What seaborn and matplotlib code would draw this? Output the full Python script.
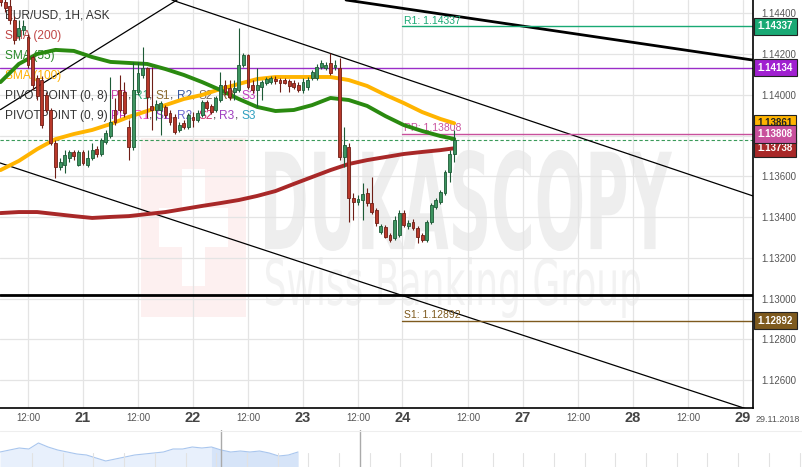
import numpy as np
import matplotlib
matplotlib.use('Agg')
import matplotlib.pyplot as plt
import matplotlib.transforms as mtransforms
from matplotlib.textpath import TextPath
from matplotlib.font_manager import FontProperties
from matplotlib.patches import PathPatch, Rectangle
import seaborn as sns

sns.set_style('white')
plt.rcParams['font.family'] = ['Liberation Sans', 'DejaVu Sans']
NARROW = ['Liberation Sans Narrow', 'Liberation Sans', 'DejaVu Sans']

# hourly EUR/USD candles (ask), bar index = hours on the chart axis
opens = [1.14505, 1.14456, 1.14437, 1.14368, 1.14289, 1.14319, 1.14284, 1.14186, 1.14083, 1.14073,
         1.14000, 1.13926, 1.13764, 1.13646, 1.13656, 1.13690, 1.13720, 1.13656, 1.13720, 1.13656,
         1.13690, 1.13734, 1.13710, 1.13769, 1.13798, 1.13926, 1.14024, 1.14014, 1.13842, 1.13744,
         1.14014, 1.14098, 1.14132, 1.13946, 1.13926, 1.13926, 1.13941, 1.13911, 1.13892, 1.13828,
         1.13862, 1.13842, 1.13892, 1.13877, 1.13901, 1.13965, 1.13946, 1.13926, 1.13975, 1.14049,
         1.14034, 1.14014, 1.14024, 1.14147, 1.14196, 1.14049, 1.14024, 1.14039, 1.14058, 1.14063,
         1.14078, 1.14073, 1.14073, 1.14068, 1.14058, 1.14049, 1.14024, 1.14039, 1.14083, 1.14083,
         1.14137, 1.14132, 1.14157, 1.14137, 1.14132, 1.13695, 1.13744, 1.13494, 1.13474, 1.13484,
         1.13518, 1.13469, 1.13435, 1.13327, 1.13351, 1.13312, 1.13297, 1.13312, 1.13420, 1.13356,
         1.13376, 1.13347, 1.13312, 1.13288, 1.13376, 1.13450, 1.13474, 1.13518, 1.13621, 1.13710]
highs = [1.14535, 1.14486, 1.14476, 1.14387, 1.14368, 1.14368, 1.14299, 1.14196, 1.14098, 1.14093,
         1.14014, 1.13936, 1.13779, 1.13690, 1.13729, 1.13729, 1.13729, 1.13729, 1.13729, 1.13729,
         1.13764, 1.13749, 1.13788, 1.13828, 1.14088, 1.13985, 1.14098, 1.14063, 1.13877, 1.14162,
         1.14162, 1.14235, 1.14137, 1.14137, 1.13975, 1.13970, 1.13950, 1.13926, 1.13906, 1.13867,
         1.13877, 1.13911, 1.13916, 1.13926, 1.13975, 1.13975, 1.13955, 1.13995, 1.14112, 1.14073,
         1.14073, 1.14073, 1.14329, 1.14206, 1.14201, 1.14073, 1.14132, 1.14073, 1.14088, 1.14093,
         1.14093, 1.14083, 1.14083, 1.14078, 1.14073, 1.14063, 1.14083, 1.14088, 1.14122, 1.14152,
         1.14171, 1.14162, 1.14206, 1.14171, 1.14181, 1.13842, 1.13764, 1.13518, 1.13509, 1.13567,
         1.13543, 1.13597, 1.13445, 1.13366, 1.13361, 1.13322, 1.13405, 1.13435, 1.13435, 1.13386,
         1.13391, 1.13356, 1.13322, 1.13386, 1.13469, 1.13494, 1.13533, 1.13631, 1.13729, 1.13828]
lows = [1.14437, 1.14407, 1.14348, 1.14250, 1.14270, 1.14294, 1.14132, 1.14024, 1.13975, 1.13838,
        1.13916, 1.13754, 1.13592, 1.13631, 1.13617, 1.13671, 1.13680, 1.13651, 1.13656, 1.13646,
        1.13680, 1.13695, 1.13700, 1.13759, 1.13788, 1.13852, 1.13916, 1.13892, 1.13680, 1.13729,
        1.14000, 1.14083, 1.13887, 1.13828, 1.13877, 1.13803, 1.13887, 1.13852, 1.13808, 1.13818,
        1.13833, 1.13833, 1.13842, 1.13867, 1.13892, 1.13926, 1.13906, 1.13916, 1.13965, 1.14000,
        1.13975, 1.13975, 1.14014, 1.14137, 1.14029, 1.14009, 1.13941, 1.13975, 1.14049, 1.14054,
        1.14054, 1.14014, 1.14054, 1.14014, 1.14029, 1.14014, 1.14009, 1.14024, 1.14073, 1.14073,
        1.14127, 1.14122, 1.14098, 1.14122, 1.13680, 1.13646, 1.13376, 1.13386, 1.13459, 1.13386,
        1.13455, 1.13415, 1.13356, 1.13317, 1.13297, 1.13278, 1.13288, 1.13302, 1.13351, 1.13342,
        1.13337, 1.13273, 1.13278, 1.13278, 1.13366, 1.13440, 1.13464, 1.13509, 1.13572, 1.13671]
closes = [1.14456, 1.14427, 1.14368, 1.14270, 1.14329, 1.14338, 1.14147, 1.14049, 1.13995, 1.13852,
          1.13926, 1.13764, 1.13646, 1.13671, 1.13705, 1.13720, 1.13700, 1.13720, 1.13666, 1.13690,
          1.13729, 1.13710, 1.13779, 1.13813, 1.13867, 1.13867, 1.13926, 1.13911, 1.13744, 1.14024,
          1.14108, 1.14132, 1.13990, 1.13926, 1.13955, 1.13960, 1.13901, 1.13867, 1.13818, 1.13852,
          1.13842, 1.13901, 1.13877, 1.13911, 1.13965, 1.13936, 1.13916, 1.13985, 1.14049, 1.14014,
          1.13990, 1.14034, 1.14147, 1.14196, 1.14039, 1.14024, 1.14049, 1.14063, 1.14078, 1.14083,
          1.14068, 1.14058, 1.14058, 1.14044, 1.14039, 1.14024, 1.14063, 1.14073, 1.14112, 1.14137,
          1.14157, 1.14147, 1.14108, 1.14147, 1.13695, 1.13754, 1.13494, 1.13474, 1.13489, 1.13513,
          1.13469, 1.13425, 1.13371, 1.13356, 1.13302, 1.13288, 1.13386, 1.13420, 1.13361, 1.13371,
          1.13347, 1.13302, 1.13288, 1.13376, 1.13459, 1.13484, 1.13523, 1.13621, 1.13710, 1.13779]

# moving averages read every 4 bars
ma_hours = [0, 4, 8, 12, 16, 20, 24, 28, 32, 36, 40, 44, 48, 52, 56, 60, 64, 68, 72, 76, 80, 84, 88, 92, 96, 99]
sma55 = [1.14063, 1.14152, 1.14201, 1.14221, 1.14216, 1.14186, 1.14162, 1.14157, 1.14152, 1.14127,
         1.14098, 1.14063, 1.14024, 1.13980, 1.13941, 1.13921, 1.13926, 1.13950, 1.13985, 1.13975,
         1.13946, 1.13896, 1.13852, 1.13823, 1.13798, 1.13784]
sma100 = [1.13631, 1.13676, 1.13734, 1.13783, 1.13808, 1.13828, 1.13857, 1.13892, 1.13921, 1.13950,
          1.13980, 1.14000, 1.14029, 1.14054, 1.14078, 1.14088, 1.14088, 1.14088, 1.14088, 1.14073,
          1.14044, 1.14000, 1.13960, 1.13916, 1.13882, 1.13861]
sma200 = [1.13420, 1.13425, 1.13425, 1.13415, 1.13405, 1.13396, 1.13401, 1.13405, 1.13415, 1.13425,
          1.13440, 1.13455, 1.13469, 1.13484, 1.13504, 1.13528, 1.13563, 1.13597, 1.13631, 1.13661,
          1.13680, 1.13695, 1.13710, 1.13720, 1.13729, 1.13738]

# pivot levels of the current session and drawn levels
session_start = 87.7
pivots = [('R1', 1.14337, '#19a974'), ('PP', 1.13808, '#c8509c'), ('S1', 1.12892, '#7e5a1e')]
purple_level = 1.14134
black_level = 1.13018
ask_price = 1.13779

# trend lines: (hour, price) pairs
trend_thin = [((0.0, 1.13928), (40.0, 1.14487)),
              ((37.4, 1.14466), (164.2, 1.13504)),
              ((-0.11, 1.13666), (164.2, 1.12448))]
trend_thick = [((75.4, 1.14466), (164.2, 1.14171))]

tick_hours = [6, 18, 30, 42, 54, 66, 78, 87.7, 102, 114, 126, 138, 150, 162]
tick_labels = ['12:00', '21', '12:00', '22', '12:00', '23', '12:00', '24', '12:00', '27', '12:00', '28', '12:00', '29']

# navigator (overview) curve levels
nav_levels = [15, 17, 19, 18, 24, 20, 17, 15, 13, 12, 9, 6, 8, 10, 12, 13, 14, 15, 18, 18,
              20, 19, 20, 17, 15, 16, 15, 16, 14, 11, 12, 15]

W, H = 803, 467
fig = plt.figure(figsize=(W / 100, H / 100), dpi=100)
ax = fig.add_axes([0, 59 / H, 753 / W, 408 / H])
ax.set_xlim(-0.11, 164.2)
ax.set_ylim(1.12463, 1.14466)
ax.set_axisbelow(True)

# watermark (logo and brand lettering under the grid)
def stamp(text, box, color, weight):
    fp = FontProperties(family=NARROW[0], weight=weight)
    tp = TextPath((0, 0), text, size=100, prop=fp)
    bb = tp.get_extents()
    x0, y0, x1, y1 = box
    tr = mtransforms.Affine2D().translate(-bb.x0, -bb.y0).scale(
        (x1 - x0) / bb.width, (y1 - y0) / bb.height).translate(x0, H - y1)
    ax.add_patch(PathPatch(tp, transform=tr, fc=color, ec='none', zorder=0.2))

ident = mtransforms.IdentityTransform()
ax.add_patch(Rectangle((141, H - 317), 105, 179, transform=ident, fc='#fdf0f0', ec='none', zorder=0.1))
ax.add_patch(Rectangle((182, H - 286), 23, 117, transform=ident, fc='white', ec='none', zorder=0.15))
ax.add_patch(Rectangle((159, H - 247), 69, 39, transform=ident, fc='white', ec='none', zorder=0.15))
stamp('DUKASCOPY', (265, 150, 672, 251), '#eeeeee', 'bold')
stamp('Swiss Banking Group', (266, 257, 640, 318), '#f2f2f2', 'normal')

ax.grid(True, color='#e4e4e4', lw=0.9)
ax.set_xticks(tick_hours)
ax.set_xticklabels([])
ax.set_yticks(np.arange(1.126, 1.1441, 0.002))
ax.yaxis.tick_right()
ax.yaxis.set_major_formatter(matplotlib.ticker.FormatStrFormatter('%.5f'))
ax.tick_params(axis='y', length=0, pad=6, labelsize=7, labelcolor='#555555')
ax.tick_params(axis='x', length=0)
for s in ['top', 'left']:
    ax.spines[s].set_visible(False)
for s in ['right', 'bottom']:
    ax.spines[s].set_color('black')
    ax.spines[s].set_linewidth(1.2)

# levels and trend lines
ax.axhline(purple_level, color='#9a2ec8', lw=1.0, zorder=2)
ax.axhline(black_level, color='black', lw=2.0, zorder=2)
ax.axhline(ask_price, color='#3a9a5a', lw=0.8, ls=(0, (3, 2)), zorder=2)
for (a, b) in trend_thin:
    ax.plot([a[0], b[0]], [a[1], b[1]], color='black', lw=0.9, zorder=2)
for (a, b) in trend_thick:
    ax.plot([a[0], b[0]], [a[1], b[1]], color='black', lw=2.0, zorder=2)
for name, val, col in pivots:
    ax.plot([session_start, 164.2], [val, val], color=col, lw=1.0, zorder=2)
    ax.text(session_start + 0.3, val + 0.00003, f'{name}: {val:.5f}', color=col,
            fontsize=7.5, va='bottom', ha='left', zorder=3)

# legend block top-left
renderer = fig.canvas.get_renderer()
def colored_line(y, parts, size=8.6):
    t = ax.transAxes
    for s, c in parts:
        txt = ax.text(5.5 / 753, 1 - y / 408, s, color=c, transform=t, fontsize=size,
                      va='center', ha='left', zorder=2.5)
        txt.draw(renderer)
        ex = txt.get_window_extent(renderer)
        t = mtransforms.offset_copy(txt.get_transform(), x=ex.width, units='dots')

sep = '#333333'
colored_line(15.5, [('EUR/USD, 1H, ASK', '#333333')])
colored_line(35.5, [('SMA (200)', '#c04646')])
colored_line(56, [('SMA (55)', '#2a8a2a')])
colored_line(76, [('SMA (100)', '#ffb000')])
colored_line(96, [('PIVOTPOINT (0, 8) ', '#333333'), ('PP', '#cc44aa'), (', ', sep),
                  ('R1', '#2aa870'), (', ', sep), ('S1', '#8a6a30'), (', ', sep),
                  ('R2', '#3a5aa0'), (', ', sep), ('S2', '#7a6a60'), (', ', sep),
                  ('R3', '#8a5a30'), (', ', sep), ('S3', '#c040c0')])
colored_line(116, [('PIVOTPOINT (0, 9) ', '#333333'), ('PP', '#c030c0'), (', ', sep),
                   ('R1', '#ee44cc'), (', ', sep), ('S1', '#a040d0'), (', ', sep),
                   ('R2', '#6a6ad0'), (', ', sep), ('S2', '#d03070'), (', ', sep),
                   ('R3', '#a040c0'), (', ', sep), ('S3', '#30a0c0')])

# moving averages
sns.lineplot(x=ma_hours, y=sma200, ax=ax, color='#a82828', lw=2.8, zorder=4)
sns.lineplot(x=ma_hours, y=sma100, ax=ax, color='#ffb400', lw=2.8, zorder=4)
sns.lineplot(x=ma_hours, y=sma55, ax=ax, color='#2a8a10', lw=2.8, zorder=4)

# candles
hours = np.arange(len(opens))
o, h, l, c = map(np.array, (opens, highs, lows, closes))
up = c >= o
for mask, body, edge in [(up, '#3d9460', '#1d5a36'), (~up, '#b8382a', '#6e1e16')]:
    ax.vlines(hours[mask], l[mask], h[mask], color=edge, lw=0.8, zorder=5)
    ax.bar(hours[mask], np.maximum(np.abs(c[mask] - o[mask]), 0.00003), bottom=np.minimum(o[mask], c[mask]),
           width=0.62, color=body, edgecolor=edge, lw=0.6, zorder=6)

# value boxes on the price axis (they overlap as in the original)
blend = mtransforms.blended_transform_factory(ax.transAxes, ax.transData)
boxes = [(1.14337, '#19a974', 'white'), (1.14134, '#a020d0', 'white'), (1.13861, '#ffb400', '#222222'),
         (1.13770, '#1e8a1e', 'white'), (1.13738, '#a82828', 'white'), (1.13808, '#c8509c', 'white'),
         (1.12892, '#7e5a1e', 'white')]
for val, bg, tc in boxes:
    ax.text(1 + 4.5 / 753, val, f'{val:.5f}', transform=blend, ha='left', va='center', fontsize=7,
            fontweight='bold', color=tc, clip_on=False, zorder=10,
            bbox=dict(boxstyle='square,pad=0.38', fc=bg, ec='#222222', lw=0.8))

# time labels
xblend = mtransforms.blended_transform_factory(ax.transData, ax.transAxes)
for pos, lab in zip(tick_hours, tick_labels):
    if ':' in lab:
        ax.text(pos, -10 / 408, lab, transform=xblend, ha='center', va='center', fontsize=7,
                color='#555555', family=NARROW)
    else:
        ax.text(pos, -10 / 408, lab, transform=xblend, ha='center', va='center', fontsize=10.5,
                fontweight='bold', color='#444444', family=NARROW)
fig.text(778 / W, 1 - 419 / H, '29.11.2018', ha='center', va='center', fontsize=6.5,
         color='#555555', family=NARROW)

# navigator strip
nav = fig.add_axes([0, 0, 1, 37 / H])
n = len(nav_levels)
xmax = (n - 1) * W / 298
nav.set_xlim(0, xmax)
nav.set_ylim(0, 37)
nav.axis('off')
xs = np.arange(n)
levels = np.array(nav_levels)
nav.fill_between(xs, 0, levels, color='#e8f0fc', lw=0)
sel_start = 221 / W * xmax
nav.fill_between(xs, 0, levels, where=xs >= np.floor(sel_start), color='#d6e4f8', lw=0)
sns.lineplot(x=xs, y=nav_levels, ax=nav, color='#a9c6ee', lw=0.8)
for px in np.arange(32, W, 30.7):
    nav.plot([px / W * xmax] * 2, [0, 14], color='#e2e2e2', lw=0.8)
for px in [221, 360]:
    nav.plot([px / W * xmax] * 2, [0, 37], color='#aaaaaa', lw=1.0)
nav.plot([0, xmax], [36.5, 36.5], color='#eeeeee', lw=0.8)

fig.savefig('out.png', dpi=100)
